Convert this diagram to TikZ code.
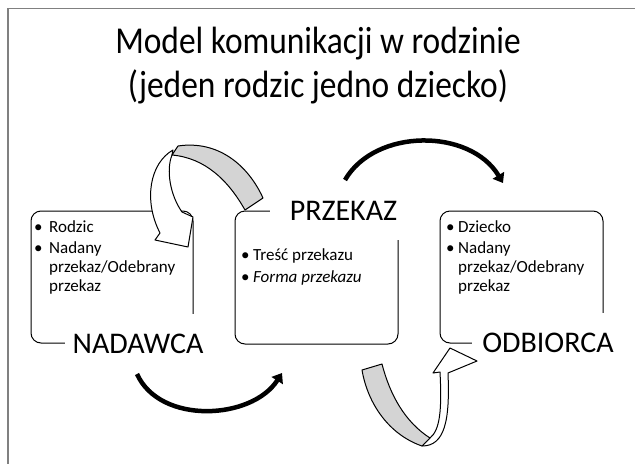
\documentclass[tikz,border=0pt]{standalone}
\usepackage{fontspec}
\setmainfont{Carlito}
\newfontfamily\titlefont{Carlito}[FakeStretch=0.88]
\usetikzlibrary{arrows.meta}
\definecolor{bandgray}{RGB}{212,212,212}
\definecolor{framegray}{RGB}{128,128,128}
\tikzset{
	slideframe/.style={draw=framegray,line width=1.5pt},
	roundbox/.style={draw=black,line width=1pt,rounded corners=10pt,inner sep=0pt},
	boxlabel/.style={fill=white,inner ysep=20pt,anchor=base,font=\fontsize{30}{36}\selectfont},
	itemtext/.style={inner sep=0pt,anchor=base west,font=\fontsize{17}{19}\selectfont},
	bandfront/.style={draw=black,line width=1pt,fill=white,line join=round},
	bandback/.style={draw=black,line width=1pt,fill=bandgray,line join=round},
	flowarrow/.style={line width=4.5pt,-{Triangle[length=9pt,width=13pt]}}
}
\begin{document}
\begin{tikzpicture}[x=1pt,y=-1pt]
	\useasboundingbox (0,0) rectangle (635,464);
	
	\draw[slideframe] (635,8.5) -- (8,8.5) -- (8,464);
	
	\node[anchor=base,align=center,inner sep=0pt,font=\titlefont\fontsize{38}{44}\selectfont] (title) at (318,97) {Model komunikacji w rodzinie\\(jeden rodzic jedno dziecko)};
	
	\node[roundbox,minimum width=162pt,minimum height=132pt] (nadawcabox) at (112,277) {};
	\node[roundbox,minimum width=163pt,minimum height=133pt] (przekazbox) at (316.5,277.5) {};
	\node[roundbox,minimum width=163pt,minimum height=132pt] (odbiorcabox) at (521.5,277) {};
	
	\node[boxlabel,inner xsep=8pt] (nadawca) at (138,353) {NADAWCA};
	\node[boxlabel,inner xsep=20pt] (przekaz) at (343.5,220) {PRZEKAZ};
	\node[boxlabel,inner xsep=10pt] (odbiorca) at (548,352) {ODBIORCA};
	
	\node[itemtext] (nadawcaitems) at (34,232){\begin{tabular}[t]{@{}l@{\hspace{6.5pt}}l@{}}\textbullet & Rodzic\\[2pt] \textbullet & Nadany\\ & przekaz/Odebrany\\ & przekaz\end{tabular}};
	\node[itemtext] (przekazitems) at (241,260){\begin{tabular}[t]{@{}l@{\hspace{3.5pt}}l@{}}\textbullet & Treść przekazu\\[3pt] \textbullet & \textit{Forma przekazu}\end{tabular}};
	\node[itemtext] (odbiorcaitems) at (446,232){\begin{tabular}[t]{@{}l@{\hspace{3.5pt}}l@{}}\textbullet & Dziecko\\[2pt] \textbullet & Nadany\\ & przekaz/Odebrany\\ & przekaz\end{tabular}};
	
	\draw[bandfront] (173,150) .. controls (150,163) and (143,200) .. (160,233) -- (155,240) -- (188,247) -- (193,217) -- (182,212) .. controls (170,195) and (166,170) .. (172,155) -- cycle;
	\draw[bandback] (178,146) .. controls (218,140) and (248,165) .. (263,198) -- (245,210) .. controls (228,180) and (205,158) .. (172,155) -- cycle;
	
	\draw[bandfront] (422,446) .. controls (445,446) and (450,420) .. (448,373) -- (477,361) -- (450,348) -- (433,373) -- (440,372) .. controls (442,410) and (440,430) .. (430,438) -- cycle;
	\draw[bandback] (362,370) -- (382,364) .. controls (390,395) and (405,422) .. (430,438) -- (422,446) .. controls (390,435) and (368,405) .. (362,370) -- cycle;
	
	\coordinate (topstart) at (345,180);
	\coordinate (topend) at (503,183);
	\coordinate (bottomstart) at (137,374);
	\coordinate (bottomend) at (282,373);
	
	\draw[flowarrow] (topstart) .. controls (375,128) and (470,128) .. (topend);
	\draw[flowarrow] (bottomstart) .. controls (160,425) and (252,420) .. (bottomend);
\end{tikzpicture}
\end{document}
